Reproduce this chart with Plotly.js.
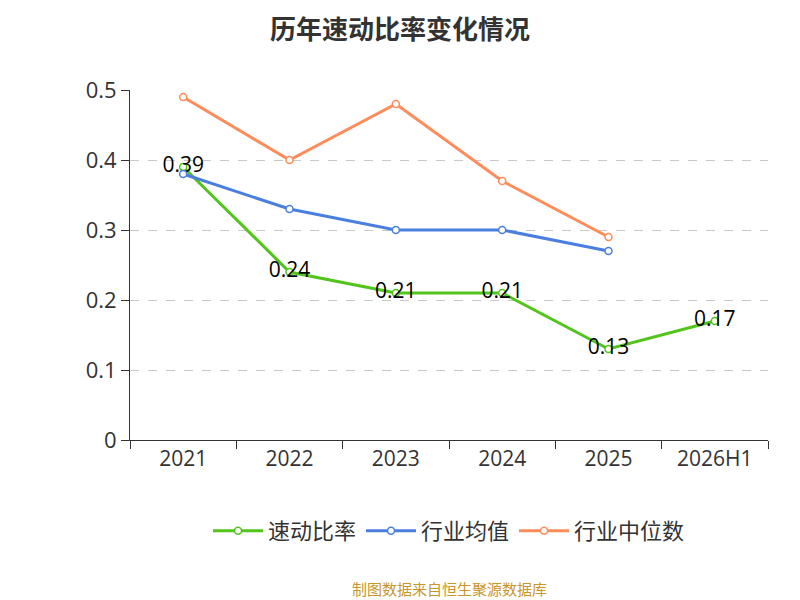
<!DOCTYPE html>
<html>
<head>
<meta charset="utf-8">
<script src="https://cdn.plot.ly/plotly-3.0.1.min.js"></script>
<style>body{margin:0}#chart{width:800px;height:600px}</style>
</head>
<body>
<div id="chart"></div>
<script>
const years = ["2021", "2022", "2023", "2024", "2025", "2026H1"];
const quickRatio = [0.39, 0.24, 0.21, 0.21, 0.13, 0.17];
const industryMean = [0.38, 0.33, 0.30, 0.30, 0.27];
const industryMedian = [0.49, 0.40, 0.48, 0.37, 0.29];

function lineTrace(name, y, color, withText) {
    const trace = {
        type: "scatter",
        mode: withText ? "lines+markers+text" : "lines+markers",
        name: name,
        x: years.slice(0, y.length),
        y: y,
        line: { color: color, width: 3 },
        marker: { size: 7, color: "#ffffff", line: { color: color, width: 1.5 } },
    };
    if (withText) {
        trace.text = y.map((v) => v.toFixed(2));
        trace.textposition = "middle center";
        trace.textfont = { size: 21, color: "#000000", family: "\"Open Sans\", sans-serif" };
    }
    return trace;
}

const traces = [
    lineTrace("速动比率", quickRatio, "#52c41a", true),
    lineTrace("行业均值", industryMean, "#4a7fe0", false),
    lineTrace("行业中位数", industryMedian, "#ff8c5a", false),
];

Plotly.newPlot("chart", traces, {
    width: 800,
    height: 600,
    margin: { l: 130, r: 32, t: 90, b: 160 },
    paper_bgcolor: "#ffffff",
    plot_bgcolor: "#ffffff",
    font: { family: "\"Open Sans\", \"Noto Sans CJK SC\", sans-serif", color: "#333333", size: 20 },
    title: { text: "<b>历年速动比率变化情况</b>", x: 0.5, y: 0.965, font: { size: 26, color: "#333333", family: "\"Noto Sans CJK SC\", sans-serif" } },
    xaxis: {
        type: "category",
        range: [-0.5, 5.5],
        showline: true,
        linecolor: "#333333",
        linewidth: 1,
        ticks: "outside",
        tickson: "boundaries",
        ticklen: 8,
        tickcolor: "#333333",
        showgrid: false,
        tickfont: { size: 21, color: "#333333" },
    },
    yaxis: {
        range: [0, 0.5],
        dtick: 0.1,
        showline: true,
        linecolor: "#333333",
        ticks: "outside",
        ticklen: 8,
        tickcolor: "#333333",
        gridcolor: "#c8c8c8",
        griddash: "dash",
        zeroline: false,
        tickfont: { size: 22, color: "#333333" },
        tickformat: ".1~f",
    },
    legend: {
        orientation: "h",
        x: 0.5,
        xanchor: "center",
        y: -0.2,
        yanchor: "top",
        itemwidth: 50,
        font: { size: 22, color: "#333333", family: "\"Noto Sans CJK SC\", sans-serif" },
    },
    annotations: [{
        text: "制图数据来自恒生聚源数据库",
        xref: "paper", yref: "paper",
        x: 0.5, y: -0.46,
        xanchor: "center",
        showarrow: false,
        font: { size: 15, color: "#c8962a", family: "\"Noto Sans CJK SC\", sans-serif" },
    }],
}, { displayModeBar: false });
</script>
</body>
</html>
